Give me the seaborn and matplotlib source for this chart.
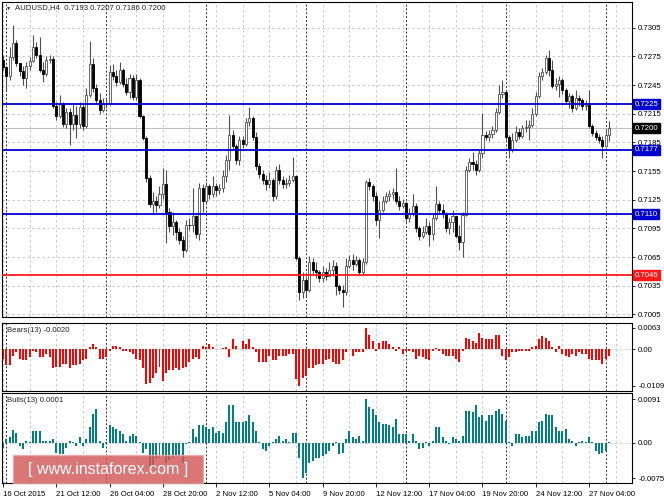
import matplotlib
matplotlib.use("Agg")
import matplotlib.pyplot as plt
import matplotlib.transforms as mtransforms
from matplotlib.patches import Rectangle
import numpy as np
import pandas as pd
import seaborn as sns

# AUDUSD H4 candles, 16 Oct 2015 20:00 .. 27 Nov 2015
first_open = 0.7271
closes = [
    0.7264, 0.7254, 0.7274, 0.7289, 0.7268, 0.7260, 0.7252, 0.7265, 0.7270, 0.7285,
    0.7276, 0.7261, 0.7257, 0.7271, 0.7272, 0.7223, 0.7213, 0.7225, 0.7204, 0.7217,
    0.7204, 0.7214, 0.7204, 0.7222, 0.7202, 0.7235, 0.7267, 0.7242, 0.7229, 0.7219,
    0.7225, 0.7226, 0.7259, 0.7254, 0.7248, 0.7261, 0.7246, 0.7238, 0.7252, 0.7232,
    0.7250, 0.7213, 0.7190, 0.7148, 0.7120, 0.7124, 0.7119, 0.7131, 0.7141, 0.7112,
    0.7097, 0.7102, 0.7091, 0.7083, 0.7072, 0.7099, 0.7098, 0.7108, 0.7089, 0.7137,
    0.7124, 0.7139, 0.7131, 0.7139, 0.7135, 0.7137, 0.7150, 0.7167, 0.7193, 0.7181,
    0.7167, 0.7187, 0.7183, 0.7206, 0.7210, 0.7191, 0.7160, 0.7152, 0.7146, 0.7141,
    0.7146, 0.7129, 0.7156, 0.7146, 0.7141, 0.7142, 0.7146, 0.7150, 0.7064, 0.7028,
    0.7041, 0.7030, 0.7060, 0.7051, 0.7049, 0.7043, 0.7049, 0.7045, 0.7051, 0.7056,
    0.7035, 0.7030, 0.7028, 0.7056, 0.7062, 0.7058, 0.7062, 0.7049, 0.7060, 0.7143,
    0.7139, 0.7129, 0.7104, 0.7114, 0.7124, 0.7129, 0.7131, 0.7133, 0.7124, 0.7118,
    0.7122, 0.7106, 0.7110, 0.7118, 0.7095, 0.7087, 0.7091, 0.7097, 0.7089, 0.7106,
    0.7120, 0.7114, 0.7110, 0.7095, 0.7102, 0.7108, 0.7087, 0.7081, 0.7109, 0.7156,
    0.7164, 0.7162, 0.7156, 0.7174, 0.7193, 0.7191, 0.7194, 0.7198, 0.7217, 0.7236,
    0.7238, 0.7191, 0.7177, 0.7187, 0.7196, 0.7192, 0.7200, 0.7201, 0.7203, 0.7215,
    0.7234, 0.7254, 0.7259, 0.7273, 0.7261, 0.7244, 0.7246, 0.7250, 0.7240, 0.7228,
    0.7234, 0.7221, 0.7231, 0.7229, 0.7223, 0.7224, 0.7202, 0.7195, 0.7191, 0.7187,
    0.7181, 0.7193, 0.7200,
]
highs = [
    0.7276, 0.7265, 0.7285, 0.7308, 0.7292, 0.7268, 0.7265, 0.7269, 0.7274, 0.7297,
    0.7290, 0.7295, 0.7269, 0.7275, 0.7276, 0.7275, 0.7227, 0.7235, 0.7227, 0.7221,
    0.7221, 0.7225, 0.7223, 0.7227, 0.7225, 0.7242, 0.7291, 0.7273, 0.7246, 0.7237,
    0.7231, 0.7230, 0.7266, 0.7267, 0.7261, 0.7269, 0.7263, 0.7252, 0.7257, 0.7255,
    0.7257, 0.7252, 0.7214, 0.7192, 0.7151, 0.7133, 0.7129, 0.7139, 0.7158, 0.7156,
    0.7116, 0.7112, 0.7104, 0.7095, 0.7087, 0.7104, 0.7106, 0.7137, 0.7109, 0.7142,
    0.7141, 0.7143, 0.7141, 0.7150, 0.7142, 0.7141, 0.7156, 0.7172, 0.7214, 0.7198,
    0.7183, 0.7192, 0.7192, 0.7210, 0.7222, 0.7213, 0.7196, 0.7163, 0.7156, 0.7151,
    0.7154, 0.7148, 0.7160, 0.7162, 0.7150, 0.7148, 0.7151, 0.7170, 0.7151, 0.7066,
    0.7049, 0.7045, 0.7066, 0.7064, 0.7060, 0.7051, 0.7056, 0.7053, 0.7060, 0.7062,
    0.7060, 0.7037, 0.7036, 0.7064, 0.7067, 0.7068, 0.7066, 0.7064, 0.7064, 0.7146,
    0.7148, 0.7141, 0.7133, 0.7124, 0.7129, 0.7133, 0.7135, 0.7137, 0.7158, 0.7129,
    0.7126, 0.7124, 0.7116, 0.7131, 0.7122, 0.7097, 0.7097, 0.7106, 0.7102, 0.7110,
    0.7139, 0.7124, 0.7120, 0.7112, 0.7106, 0.7114, 0.7108, 0.7098, 0.7112, 0.7160,
    0.7169, 0.7175, 0.7167, 0.7177, 0.7216, 0.7197, 0.7198, 0.7202, 0.7221, 0.7245,
    0.7250, 0.7240, 0.7193, 0.7195, 0.7202, 0.7200, 0.7203, 0.7208, 0.7208, 0.7221,
    0.7238, 0.7259, 0.7263, 0.7276, 0.7282, 0.7271, 0.7252, 0.7254, 0.7252, 0.7242,
    0.7237, 0.7236, 0.7240, 0.7235, 0.7231, 0.7229, 0.7240, 0.7204, 0.7198, 0.7194,
    0.7192, 0.7198, 0.7207,
]
lows = [
    0.7261, 0.7240, 0.7250, 0.7271, 0.7265, 0.7254, 0.7245, 0.7242, 0.7261, 0.7269,
    0.7273, 0.7259, 0.7248, 0.7254, 0.7268, 0.7221, 0.7208, 0.7210, 0.7201, 0.7200,
    0.7182, 0.7198, 0.7190, 0.7200, 0.7198, 0.7200, 0.7232, 0.7238, 0.7225, 0.7215,
    0.7217, 0.7221, 0.7224, 0.7250, 0.7244, 0.7246, 0.7243, 0.7235, 0.7231, 0.7229,
    0.7229, 0.7210, 0.7187, 0.7143, 0.7117, 0.7111, 0.7112, 0.7116, 0.7126, 0.7080,
    0.7091, 0.7088, 0.7083, 0.7079, 0.7065, 0.7070, 0.7093, 0.7091, 0.7085, 0.7083,
    0.7112, 0.7122, 0.7126, 0.7128, 0.7129, 0.7131, 0.7133, 0.7143, 0.7156, 0.7177,
    0.7162, 0.7161, 0.7179, 0.7181, 0.7202, 0.7187, 0.7156, 0.7148, 0.7141, 0.7135,
    0.7137, 0.7124, 0.7126, 0.7141, 0.7137, 0.7137, 0.7139, 0.7143, 0.7062, 0.7020,
    0.7022, 0.7023, 0.7028, 0.7047, 0.7043, 0.7039, 0.7039, 0.7041, 0.7045, 0.7045,
    0.7025, 0.7026, 0.7013, 0.7025, 0.7053, 0.7051, 0.7056, 0.7047, 0.7046, 0.7058,
    0.7135, 0.7124, 0.7099, 0.7085, 0.7112, 0.7122, 0.7124, 0.7126, 0.7120, 0.7114,
    0.7116, 0.7102, 0.7102, 0.7108, 0.7091, 0.7083, 0.7085, 0.7089, 0.7076, 0.7083,
    0.7104, 0.7110, 0.7106, 0.7091, 0.7089, 0.7091, 0.7085, 0.7072, 0.7065, 0.7108,
    0.7154, 0.7156, 0.7151, 0.7154, 0.7169, 0.7187, 0.7186, 0.7190, 0.7196, 0.7215,
    0.7231, 0.7187, 0.7169, 0.7175, 0.7185, 0.7188, 0.7190, 0.7196, 0.7187, 0.7201,
    0.7213, 0.7231, 0.7250, 0.7257, 0.7254, 0.7242, 0.7240, 0.7232, 0.7236, 0.7225,
    0.7221, 0.7217, 0.7219, 0.7223, 0.7219, 0.7219, 0.7200, 0.7192, 0.7187, 0.7184,
    0.7169, 0.7180, 0.7186,
]

# Bears Power (13)
bears = [
    -0.0029, -0.0048, -0.0048, -0.0019, -0.0010, -0.0029, -0.0033, -0.0033, -0.0024, -0.0005,
    -0.0010, -0.0024, -0.0024, -0.0014, -0.0024, -0.0057, -0.0052, -0.0052, -0.0043, -0.0043,
    -0.0057, -0.0048, -0.0048, -0.0043, -0.0033, -0.0029, 0.0005, 0.0014, 0.0005, -0.0029,
    -0.0029, -0.0024, -0.0005, 0.0008, 0.0008, 0.0005, -0.0005, -0.0005, -0.0010, -0.0014,
    -0.0029, -0.0033, -0.0057, -0.0105, -0.0100, -0.0086, -0.0071, -0.0052, -0.0095, -0.0071,
    -0.0062, -0.0062, -0.0057, -0.0062, -0.0057, -0.0052, -0.0038, -0.0029, -0.0024, -0.0029,
    0.0010, 0.0005, 0.0014, 0.0005, -0.0001, 0.0001, 0.0003, 0.0005, -0.0024, 0.0029,
    0.0010, 0.0001, 0.0024, 0.0014, 0.0029, 0.0005, -0.0010, -0.0038, -0.0038, -0.0038,
    -0.0019, -0.0033, -0.0033, -0.0019, -0.0019, -0.0019, -0.0014, -0.0014, -0.0090, -0.0109,
    -0.0086, -0.0081, -0.0057, -0.0057, -0.0048, -0.0043, -0.0043, -0.0033, -0.0029, -0.0038,
    -0.0043, -0.0043, -0.0033, -0.0010, -0.0001, -0.0019, -0.0010, -0.0010, -0.0010, 0.0063,
    0.0043, 0.0024, -0.0005, 0.0019, 0.0024, 0.0024, 0.0014, 0.0005, -0.0005, 0.0005,
    -0.0014, -0.0005, -0.0005, -0.0010, -0.0029, -0.0019, -0.0024, -0.0029, -0.0033, -0.0005,
    0.0003, -0.0005, -0.0014, -0.0019, -0.0019, -0.0019, -0.0029, -0.0038, -0.0005, 0.0033,
    0.0029, 0.0024, 0.0019, 0.0048, 0.0033, 0.0029, 0.0029, 0.0029, 0.0043, 0.0043,
    -0.0019, -0.0033, -0.0024, -0.0010, -0.0010, -0.0005, -0.0005, -0.0005, -0.0005, 0.0005,
    0.0010, 0.0029, 0.0038, 0.0033, 0.0024, 0.0005, -0.0010, 0.0010, -0.0014, -0.0019,
    -0.0024, -0.0014, -0.0019, -0.0010, -0.0014, -0.0014, -0.0029, -0.0033, -0.0033, -0.0033,
    -0.0043, -0.0029, -0.0020,
]

# Bulls Power (13)
bulls = [
    -0.0011, 0.0007, 0.0011, 0.0026, 0.0021, -0.0007, -0.0014, 0.0004, 0.0001, 0.0025,
    0.0025, 0.0025, 0.0004, 0.0004, 0.0004, 0.0007, -0.0021, -0.0025, -0.0025, -0.0011,
    0.0004, 0.0001, -0.0007, 0.0011, -0.0007, 0.0007, 0.0032, 0.0061, 0.0070, 0.0004,
    -0.0011, 0.0001, 0.0036, 0.0032, 0.0028, 0.0025, 0.0018, 0.0004, 0.0014, 0.0018,
    0.0014, 0.0001, -0.0021, -0.0014, -0.0050, -0.0050, -0.0032, -0.0032, -0.0028, -0.0043,
    -0.0036, -0.0032, -0.0028, -0.0028, -0.0043, -0.0004, 0.0001, 0.0028, 0.0011, 0.0036,
    0.0036, 0.0032, 0.0028, 0.0032, 0.0021, 0.0025, 0.0021, 0.0043, 0.0078, 0.0078,
    0.0043, 0.0043, 0.0043, 0.0046, 0.0057, 0.0043, 0.0025, 0.0001, -0.0014, -0.0018,
    -0.0007, 0.0001, 0.0007, 0.0014, 0.0004, 0.0007, 0.0001, 0.0021, 0.0021, -0.0032,
    -0.0075, -0.0064, -0.0043, -0.0039, -0.0032, -0.0032, -0.0028, -0.0025, -0.0018, -0.0007,
    0.0001, -0.0025, -0.0021, 0.0007, 0.0025, 0.0011, 0.0007, 0.0014, 0.0004, 0.0091,
    0.0075, 0.0071, 0.0057, 0.0043, 0.0039, 0.0039, 0.0036, 0.0032, 0.0050, 0.0018,
    0.0018, 0.0018, 0.0004, 0.0018, 0.0004, -0.0014, -0.0011, 0.0001, -0.0007, 0.0004,
    0.0032, 0.0032, 0.0011, 0.0004, -0.0004, 0.0011, 0.0007, 0.0004, 0.0014, 0.0067,
    0.0067, 0.0064, 0.0078, 0.0053, 0.0057, 0.0046, 0.0057, 0.0057, 0.0067, 0.0071,
    0.0060, 0.0046, 0.0001, -0.0007, 0.0018, 0.0018, 0.0011, 0.0014, 0.0014, 0.0025,
    0.0025, 0.0043, 0.0046, 0.0060, 0.0057, 0.0057, 0.0032, 0.0025, 0.0025, 0.0028,
    0.0007, 0.0004, -0.0007, 0.0001, 0.0004, 0.0001, 0.0011, 0.0001, -0.0018, -0.0025,
    -0.0021, -0.0018, 0.0001,
]

date_labels = ['16 Oct 2015', '21 Oct 12:00', '26 Oct 04:00', '28 Oct 20:00',
               '2 Nov 12:00', '5 Nov 04:00', '9 Nov 20:00', '12 Nov 12:00',
               '17 Nov 04:00', '19 Nov 20:00', '24 Nov 12:00', '27 Nov 04:00']
label_bars = [0, 16, 32, 48, 64, 80, 96, 112, 128, 144, 160, 176]
week_starts = [1, 31, 61, 91, 121, 151, 181]
price_ticks = [0.7005, 0.7035, 0.7065, 0.7095, 0.7125, 0.7155,
               0.7185, 0.7215, 0.7245, 0.7275, 0.7305]
blue_levels = [0.7225, 0.7177, 0.7110]
red_level = 0.7046
last_price = 0.7200

sns.set_style("white")
plt.rcParams['font.family'] = ['Liberation Sans', 'DejaVu Sans']

W, H = 664, 498


def fx(px):
    return px / W


def fy(py):
    return 1 - py / H


def rect(left, top, right, bottom):
    return [fx(left), fy(bottom), (right - left) / W, (bottom - top) / H]


n = len(closes)
opens = [first_open] + closes[:-1]
df = pd.DataFrame({'bar': np.arange(n), 'open': opens, 'high': highs,
                   'low': lows, 'close': closes, 'bears': bears, 'bulls': bulls})

fig = plt.figure(figsize=(6.64, 4.98), dpi=100)
ax = fig.add_axes(rect(2, 2, 632, 317))
ax_be = fig.add_axes(rect(2, 323, 632, 391))
ax_bu = fig.add_axes(rect(2, 393, 632, 483))

blue = '#0000d0'
red = '#ff1a1a'
grid_c = '#c4c4c4'
fs = 5.6

# indicator histograms
sns.barplot(data=df, x='bar', y='bears', native_scale=True, color='#ff0000',
            saturation=1, width=0.6, errorbar=None, linewidth=0, ax=ax_be)
sns.barplot(data=df, x='bar', y='bulls', native_scale=True, color='#008080',
            saturation=1, width=0.6, errorbar=None, linewidth=0, ax=ax_bu)

for a in (ax, ax_be, ax_bu):
    a.set_xlim(-0.3, 188.9)
    a.set_xlabel('')
    a.set_ylabel('')
    for g in range(0, 189, 8):
        a.axvline(g, color=grid_c, lw=0.6, ls=(0, (3, 3)), zorder=0)
    for s in week_starts:
        a.axvline(s, color='#303030', lw=0.7, ls=(0, (2, 2)), zorder=0.5)
    for sp in a.spines.values():
        sp.set_color('black')
        sp.set_linewidth(0.8)
    a.yaxis.tick_right()
    a.tick_params(axis='y', right=True, left=False, length=2.5, width=0.6,
                  pad=2, labelsize=fs, colors='black')

# main candle chart
for lv in price_ticks:
    ax.axhline(lv, color=grid_c, lw=0.6, ls=(0, (3, 3)), zorder=0)
ax.axhline(last_price, color='#c0c0c0', lw=0.8, zorder=1)

up = df['close'] >= df['open']
ax.vlines(df['bar'], df['low'], df['high'], color='#505050', lw=0.8, zorder=2)
body_lo = df[['open', 'close']].min(axis=1)
body_h = (df['close'] - df['open']).abs().clip(lower=0.00006)
ax.bar(df['bar'], body_h, bottom=body_lo, width=0.62,
       color=np.where(up, 'white', 'black'),
       edgecolor=np.where(up, '#505050', 'black'), linewidth=0.6, zorder=2.5)

for lv in blue_levels:
    ax.axhline(lv, color=blue, lw=1.3, zorder=3)
ax.axhline(red_level, color=red, lw=1.3, zorder=3)

ax.set_ylim(0.70022, 0.73319)
ax.set_yticks(price_ticks)
ax.set_yticklabels([f'{p:.4f}' for p in price_ticks])
ax.tick_params(axis='x', bottom=False, labelbottom=False)

trans = mtransforms.blended_transform_factory(ax.transAxes, ax.transData)
for lv, c in [(blue_levels[0], blue), (blue_levels[1], blue), (blue_levels[2], blue),
              (red_level, red), (last_price, 'black')]:
    ax.text(1.004, lv, f'{lv:.4f}', transform=trans, fontsize=fs, color='white',
            va='center', ha='left', zorder=10,
            bbox=dict(boxstyle='square,pad=0.18', fc=c, ec=c))

# bears panel
ax_be.axhline(0, color='#b0b0b0', lw=0.6, ls=(0, (1, 2)), zorder=0)
ax_be.set_ylim(-0.01248, 0.00779)
ax_be.set_yticks([0.0063, 0.0, -0.0109])
ax_be.set_yticklabels(['0.0063', '0.00', '-0.0109'])
ax_be.tick_params(axis='x', bottom=False, labelbottom=False)

# bulls panel
ax_bu.axhline(0, color='#b0b0b0', lw=0.6, ls=(0, (1, 2)), zorder=0)
ax_bu.set_ylim(-0.00849, 0.01042)
ax_bu.set_yticks([0.0091, 0.0, -0.0075])
ax_bu.set_yticklabels(['0.0091', '0.00', '-0.0075'])
ax_bu.set_xticks(label_bars)
ax_bu.set_xticklabels(date_labels, ha='left', fontsize=fs)
ax_bu.tick_params(axis='x', bottom=True, length=3, width=0.6, pad=2.5, colors='black')

# panel captions
fig.text(fx(6), fy(8), '\u25bc', fontsize=3.8, va='center', ha='left')
fig.text(fx(15), fy(8), 'AUDUSD,H4  0.7193 0.7207 0.7186 0.7200', fontsize=fs, va='center')
fig.text(fx(7), fy(330), 'Bears(13) -0.0020', fontsize=fs, va='center')
fig.text(fx(7), fy(400.5), 'Bulls(13) 0.0001', fontsize=fs, va='center')

# watermark
fig.add_artist(Rectangle((fx(13), fy(483)), (203 - 13) / W, (483 - 455) / H,
                         transform=fig.transFigure, facecolor='#d45858', alpha=0.82,
                         edgecolor='#eaa8a8', linewidth=1.0, zorder=20))
fig.text(fx(108), fy(469), '[ www.instaforex.com ]', fontsize=11.5, color='white',
         ha='center', va='center', zorder=21)

fig.savefig('out.png', dpi=100)
